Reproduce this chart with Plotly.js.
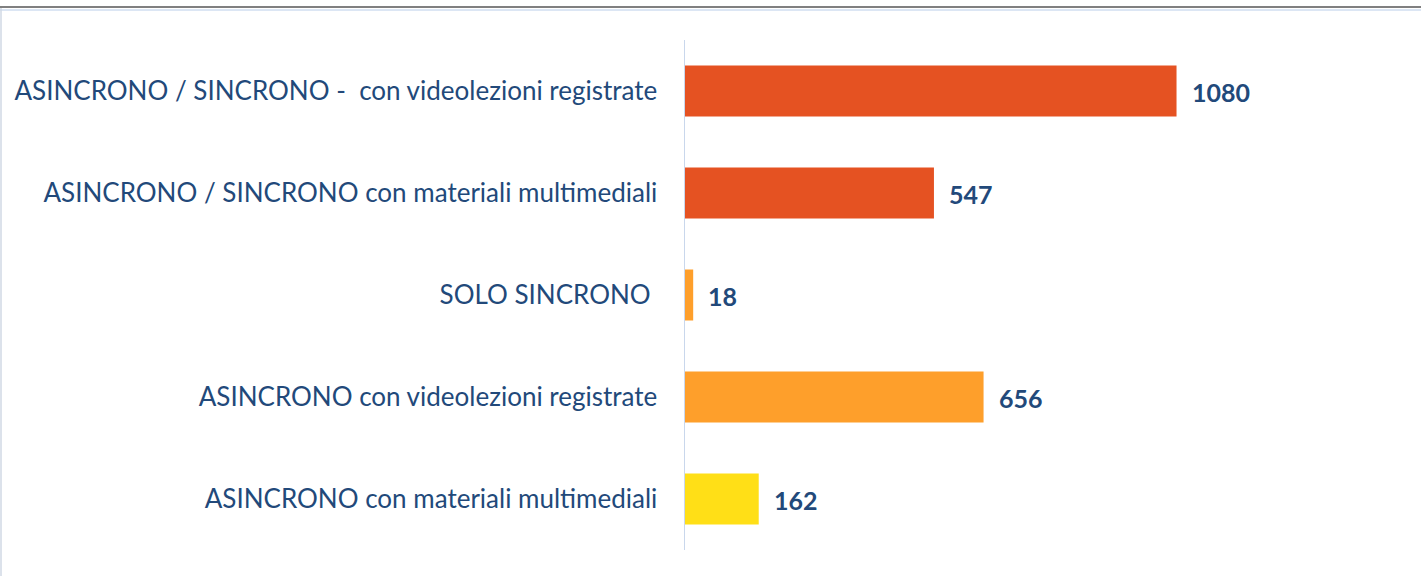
<!DOCTYPE html>
<html><head><meta charset="utf-8">
<script src="https://cdn.plot.ly/plotly-3.0.1.min.js"></script>
<style>html,body{margin:0;padding:0;background:#fff;}#chart{width:1421px;height:576px;}#chart text{font-variant-ligatures:none;}</style>
</head><body><div id="chart"></div>
<script>
const categories = [
  "ASINCRONO con materiali multimediali",
  "ASINCRONO con videolezioni registrate",
  "SOLO SINCRONO\u00a0",
  "ASINCRONO / SINCRONO con materiali multimediali",
  "ASINCRONO / SINCRONO -\u00a0 con videolezioni registrate"
];
const values = [162, 656, 18, 547, 1080];
const colors = ["#FFDF17", "#FE9F2B", "#FE9F2B", "#E55222", "#E55222"];

const W = 1421, H = 576, L = 685, R = 21, T = 40, B = 26;
const px = (x) => (x - L) / (W - L - R);
const py = (y) => (H - B - y) / (H - T - B);

const trace = {
  type: "bar", orientation: "h",
  x: values, y: categories,
  marker: {color: colors, line: {width: 0}},
  width: 0.5, hoverinfo: "skip"
};
const annotations = values.map((v, i) => ({
  x: v, y: categories[i], xref: "x", yref: "y",
  text: String(v), showarrow: false, xanchor: "left", xshift: 13, yshift: -1,
  font: {family: "Lato, 'Open Sans', sans-serif", size: 25, color: "#22497A", weight: "bold"}
}));
const layout = {
  width: W, height: H,
  margin: {l: L, r: R, t: T, b: B},
  paper_bgcolor: "#fff", plot_bgcolor: "#fff",
  showlegend: false,
  xaxis: {range: [0, 1571], visible: false, fixedrange: true},
  yaxis: {
    type: "category", categoryarray: categories, range: [-0.5, 4.5],
    showline: true, linecolor: "#C9D7EC", linewidth: 1.5,
    showgrid: false, zeroline: false, ticks: "", ticklabelstandoff: 21,
    tickfont: {family: "Lato, 'Open Sans', sans-serif", size: 26, color: "#22497A"}
  },
  annotations: annotations,
  shapes: [
    {type: "line", xref: "paper", yref: "paper", x0: px(0), x1: px(W), y0: py(7), y1: py(7), line: {color: "#808080", width: 2}},
    {type: "line", xref: "paper", yref: "paper", x0: px(0), x1: px(W), y0: py(10), y1: py(10), line: {color: "#DCE6F4", width: 2}},
    {type: "line", xref: "paper", yref: "paper", x0: px(1), x1: px(1), y0: py(8), y1: py(H), line: {color: "#D0D8E4", width: 1.5}}
  ]
};
Plotly.newPlot("chart", [trace], layout, {displayModeBar: false, staticPlot: true});
</script></body></html>
